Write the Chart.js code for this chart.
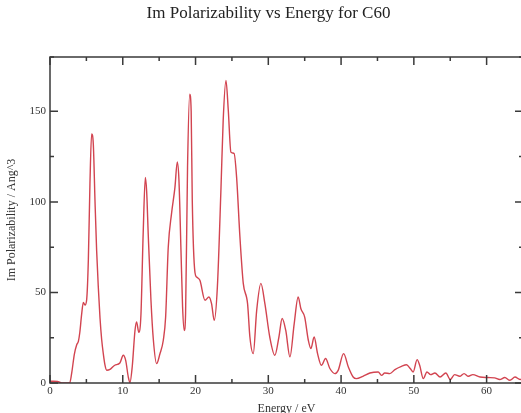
<!DOCTYPE html>
<html><head><meta charset="utf-8">
<script src="https://cdn.jsdelivr.net/npm/chart.js@4/dist/chart.umd.min.js"></script>
<style>
html,body{margin:0;padding:0;overflow:hidden;background:#fff;width:521px;height:413px}
#wrap{position:relative;width:530px;height:413px}
</style>
</head><body>
<div id="wrap"><canvas id="c" width="530" height="413"></canvas></div>
<script>
// Photon energy (eV)
const energy = [
  0, 0.5, 1.0, 1.4, 1.6, 2.7, 3.0, 3.35, 3.66, 3.9, 4.1, 4.35, 4.58, 4.81, 5.04, 5.27, 5.49, 5.72, 5.95,
  6.18, 6.41, 6.65, 6.87, 7.1, 7.33, 7.55, 7.8, 8.25, 8.9, 9.6, 10.07, 10.4, 10.76, 10.99, 11.3, 11.68,
  11.9, 12.2, 12.5, 12.8, 13.1, 13.28, 13.5, 13.87, 14.2, 14.65, 15.1, 15.57, 15.89, 16.25, 16.7, 17.17,
  17.49, 17.72, 18.0, 18.22, 18.45, 18.63, 18.9, 19.2, 19.4, 19.55, 19.92, 20.15, 20.6, 21.3, 21.84, 22.2,
  22.57, 23.0, 23.5, 23.8, 24.18, 24.5, 24.86, 25.3, 25.64, 26.1, 26.56, 27.15, 27.47, 27.93, 28.4, 28.98,
  29.53, 30.2, 30.9, 31.46, 31.9, 32.4, 32.97, 33.56, 34.1, 34.48, 35.0, 35.5, 35.85, 36.3, 36.77, 37.3,
  37.87, 38.46, 39.15, 39.6, 40.35, 41.0, 41.66, 42.1, 43.0, 43.96, 45.1, 45.56, 46.0, 46.7, 47.4, 48.3,
  49.0, 49.5, 49.9, 50.45, 50.8, 51.3, 51.8, 52.3, 52.9, 53.6, 54.4, 55.0, 55.6, 56.3, 56.9, 57.5, 58.1,
  59.1, 60.2, 61.1, 61.8, 62.5, 63.2, 63.9, 64.6, 65
];
// Im polarizability (Ang^3)
const imPolarizability = [
  1.0, 1.0, 0.8, 0.3, 0, 0, 6, 16, 21, 23, 28, 38, 44.5, 43, 46, 68, 110, 137.5, 132,
  101, 73, 52, 36, 24, 16, 10, 7, 7.5, 9.8, 11, 15.3, 12.5, 3.3, 0.3, 9, 29,
  33.7, 28, 38, 82, 113.5, 106, 82, 46, 24, 10.7, 16, 23.6, 36.4, 75, 93.5, 108,
  122, 112, 73, 42, 29, 38, 119, 159.5, 150, 101, 61, 58.5, 56.7, 45.7, 47.5, 43.8,
  34.6, 53, 108, 145, 167, 150.6, 127.5, 126.7, 113.8, 80.6, 55, 43.8, 25.4, 16.2, 40, 55,
  43.8, 25.4, 15.3, 25.4, 35.6, 29, 14.4, 32.8, 47.5, 41, 36.4, 23.6, 19, 25.4, 16.2, 9.8,
  13.5, 8, 5.2, 7, 16.2, 8.8, 3.3, 2.4, 3.7, 5.5, 6.1, 4.2, 5.5, 5.2, 7.4, 9.2,
  10.1, 8, 6.1, 12.9, 9.8, 2.4, 6.1, 4.6, 5.5, 3.3, 5.5, 1.9, 4.6, 3.7, 5.2, 3.7, 4.6,
  3.3, 3.0, 2.8, 1.9, 3.0, 1.5, 3.3, 1.9, 2.5
];
const xMajorTicks = [0, 10, 20, 30, 40, 50, 60];
const yMajorTicks = [0, 50, 100, 150];

const points = energy.map((e, i) => ({x: e, y: imPolarizability[i]}));

const frameTicks = {
  id: 'frameTicks',
  afterDatasetsDraw(chart) {
    const {ctx, chartArea: a, scales: {x, y}} = chart;
    ctx.save();
    ctx.strokeStyle = '#3a3a3a';
    ctx.lineWidth = 1.5;
    ctx.strokeRect(a.left, a.top, a.right - a.left, a.bottom - a.top);
    ctx.beginPath();
    x.ticks.forEach(t => {
      const px = x.getPixelForValue(t.value);
      const len = xMajorTicks.includes(t.value) ? 8 : 4;
      ctx.moveTo(px, a.bottom); ctx.lineTo(px, a.bottom - len);
      ctx.moveTo(px, a.top); ctx.lineTo(px, a.top + len);
    });
    y.ticks.forEach(t => {
      const py = y.getPixelForValue(t.value);
      const len = yMajorTicks.includes(t.value) ? 8 : 4;
      ctx.moveTo(a.left, py); ctx.lineTo(a.left + len, py);
      ctx.moveTo(a.right, py); ctx.lineTo(a.right - len, py);
    });
    ctx.stroke();
    ctx.restore();
  }
};

const serif = 'Liberation Serif';
new Chart(document.getElementById('c'), {
  type: 'line',
  data: {
    datasets: [{
      data: points,
      borderColor: '#d24450',
      borderWidth: 1.4,
      pointRadius: 0,
      fill: false,
      cubicInterpolationMode: 'monotone'
    }]
  },
  options: {
    responsive: false,
    devicePixelRatio: 1,
    animation: false,
    layout: {padding: {left: 14, right: 7, top: 0, bottom: 0}},
    plugins: {
      legend: {display: false},
      tooltip: {enabled: false},
      title: {
        display: true,
        text: 'Im Polarizability vs Energy for C60',
        color: '#222',
        font: {family: serif, size: 17, weight: 'normal', lineHeight: 1.2},
        padding: {top: 3, bottom: 33.6}
      }
    },
    scales: {
      x: {
        type: 'linear',
        min: 0, max: 65,
        afterFit: s => { s.height = 30; },
        grid: {display: false, drawTicks: false},
        border: {display: false},
        ticks: {
          stepSize: 5, autoSkip: false, maxRotation: 0, padding: 2,
          color: '#333',
          font: {family: serif, size: 11},
          callback: v => xMajorTicks.includes(v) ? String(v) : ''
        },
        title: {
          display: true, text: 'Energy / eV', color: '#333',
          font: {family: serif, size: 12, lineHeight: 1},
          padding: {top: 0, bottom: -2}
        }
      },
      y: {
        min: 0, max: 180,
        afterFit: s => { s.width = 36; },
        grid: {display: false, drawTicks: false},
        border: {display: false},
        ticks: {
          stepSize: 25, autoSkip: false, padding: 4,
          color: '#333',
          font: {family: serif, size: 11},
          callback: v => yMajorTicks.includes(v) ? String(v) : ''
        },
        title: {
          display: true, text: 'Im Polarizability / Ang^3', color: '#333',
          font: {family: serif, size: 12, lineHeight: 1.2},
          padding: {top: -9, bottom: 0}
        }
      }
    }
  },
  plugins: [frameTicks]
});
</script>
</body></html>
